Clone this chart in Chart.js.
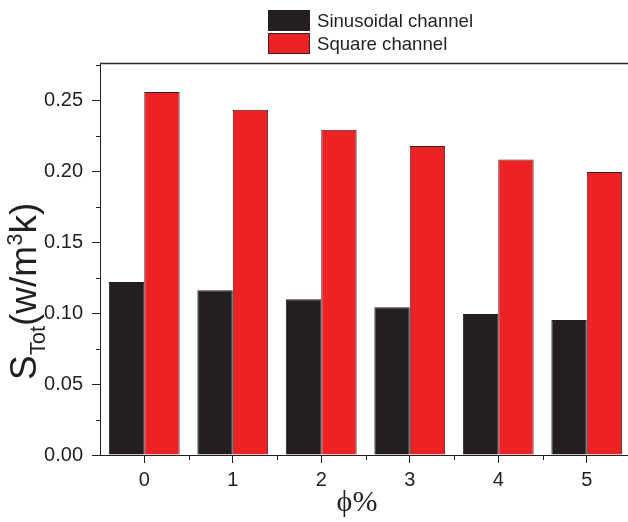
<!DOCTYPE html>
<html>
<head>
<meta charset="utf-8">
<script src="https://cdn.jsdelivr.net/npm/chart.js@4"></script>
<style>
  html, body { margin: 0; padding: 0; background: #fff; overflow: hidden; width: 628px; height: 522px; }
  #wrap { width: 640px; height: 522px; }
</style>
</head>
<body>
<div id="wrap"><canvas id="c" width="640" height="522"></canvas></div>
<script>
// Entropy generation per unit volume vs nanoparticle volume fraction
const categories = ['0', '1', '2', '3', '4', '5'];
const sinusoidal = [0.1221, 0.1162, 0.1099, 0.1042, 0.0995, 0.0953];
const square = [0.2560, 0.2435, 0.2294, 0.2179, 0.2084, 0.1997];
const seriesNames = ['Sinusoidal channel', 'Square channel'];
const yTicks = [0, 0.05, 0.10, 0.15, 0.20, 0.25];
const yMinorTicks = [0.025, 0.075, 0.125, 0.175, 0.225, 0.275];

const INK = '#231f20';
const SANS = '"Liberation Sans", Arial, sans-serif';
const SERIF = '"Liberation Serif", "Times New Roman", serif';

// Frame, minor ticks, legend and axis titles
const decorations = {
  id: 'decorations',
  afterDraw(chart) {
    const ctx = chart.ctx;
    const area = chart.chartArea;
    const xs = chart.scales.x;
    const ys = chart.scales.y;
    ctx.save();

    // top frame line
    ctx.strokeStyle = '#2a2a2a';
    ctx.lineWidth = 1.6;
    ctx.beginPath();
    ctx.moveTo(area.left, area.top + 0.5);
    ctx.lineTo(area.right, area.top + 0.5);
    ctx.stroke();

    // minor ticks
    ctx.strokeStyle = INK;
    ctx.lineWidth = 1;
    ctx.beginPath();
    yMinorTicks.forEach(v => {
      if (v > ys.max) return;
      const py = Math.round(ys.getPixelForValue(v)) + 0.5;
      ctx.moveTo(area.left - 4, py);
      ctx.lineTo(area.left, py);
    });
    for (let i = 0; i < categories.length - 1; i++) {
      const px = Math.round((xs.getPixelForValue(i) + xs.getPixelForValue(i + 1)) / 2) + 0.5;
      ctx.moveTo(px, area.bottom);
      ctx.lineTo(px, area.bottom + 5);
    }
    ctx.stroke();

    // legend
    const lx = 268, ly = 10, bw = 42, bh = 21, gap = 2;
    chart.data.datasets.forEach((ds, k) => {
      const y0 = ly + k * (bh + gap);
      ctx.fillStyle = ds.backgroundColor;
      ctx.fillRect(lx, y0, bw, bh);
      ctx.strokeStyle = ds.borderColor;
      ctx.lineWidth = 1;
      ctx.strokeRect(lx + 0.5, y0 + 0.5, bw - 1, bh - 1);
      ctx.fillStyle = INK;
      ctx.font = '18.6px ' + SANS;
      ctx.textAlign = 'left';
      ctx.textBaseline = 'middle';
      ctx.fillText(ds.label, lx + bw + 7, y0 + bh / 2 + 1);
    });

    // x title
    ctx.fillStyle = INK;
    ctx.font = '30px ' + SERIF;
    ctx.textAlign = 'center';
    ctx.textBaseline = 'alphabetic';
    ctx.fillText('\u03D5%', 357, 511);

    // y title: S_Tot(w/m^3k)
    ctx.translate(36, 380);
    ctx.rotate(-Math.PI / 2);
    ctx.textAlign = 'left';
    ctx.textBaseline = 'alphabetic';
    let cx = 0;
    const big = '37px ' + SANS, small = '22px ' + SANS;
    const parts = [
      ['S', big, 0],
      ['Tot', small, 9],
      ['(w/m', big, 0],
      ['3', small, -14],
      ['k)', big, 0]
    ];
    parts.forEach(([t, f, dy]) => {
      ctx.font = f;
      ctx.fillText(t, cx, dy);
      cx += ctx.measureText(t).width;
    });
    ctx.restore();
  }
};

new Chart(document.getElementById('c'), {
  type: 'bar',
  data: {
    labels: categories,
    datasets: [
      {
        label: seriesNames[0],
        data: sinusoidal,
        backgroundColor: INK,
        borderColor: INK,
        borderWidth: 1,
        categoryPercentage: 0.8,
        barPercentage: 1.0
      },
      {
        label: seriesNames[1],
        data: square,
        backgroundColor: '#ed2224',
        borderColor: '#3a2022',
        borderWidth: 1,
        categoryPercentage: 0.8,
        barPercentage: 1.0
      }
    ]
  },
  plugins: [decorations],
  options: {
    responsive: false,
    animation: false,
    devicePixelRatio: 1,
    layout: { padding: { left: 0, top: 63, right: 9, bottom: 0 } },
    plugins: {
      legend: { display: false },
      tooltip: { enabled: false },
      title: { display: false }
    },
    scales: {
      x: {
        type: 'category',
        offset: true,
        grid: {
          offset: false,
          drawOnChartArea: false,
          drawTicks: true,
          tickLength: 8,
          color: INK
        },
        border: { display: true, color: INK, width: 1 },
        ticks: {
          color: INK,
          font: { family: SANS, size: 20 },
          padding: 5,
          maxRotation: 0
        },
        afterFit(s) { s.height = 67; }
      },
      y: {
        min: 0,
        max: 0.2765,
        grid: {
          drawOnChartArea: false,
          drawTicks: true,
          tickLength: 8,
          color: INK
        },
        border: { display: true, color: INK, width: 1 },
        afterBuildTicks(s) { s.ticks = yTicks.map(v => ({ value: v })); },
        ticks: {
          color: INK,
          font: { family: SANS, size: 20 },
          padding: 9,
          callback: v => Number(v).toFixed(2)
        },
        afterFit(s) { s.width = 100; }
      }
    }
  }
});
</script>
</body>
</html>
